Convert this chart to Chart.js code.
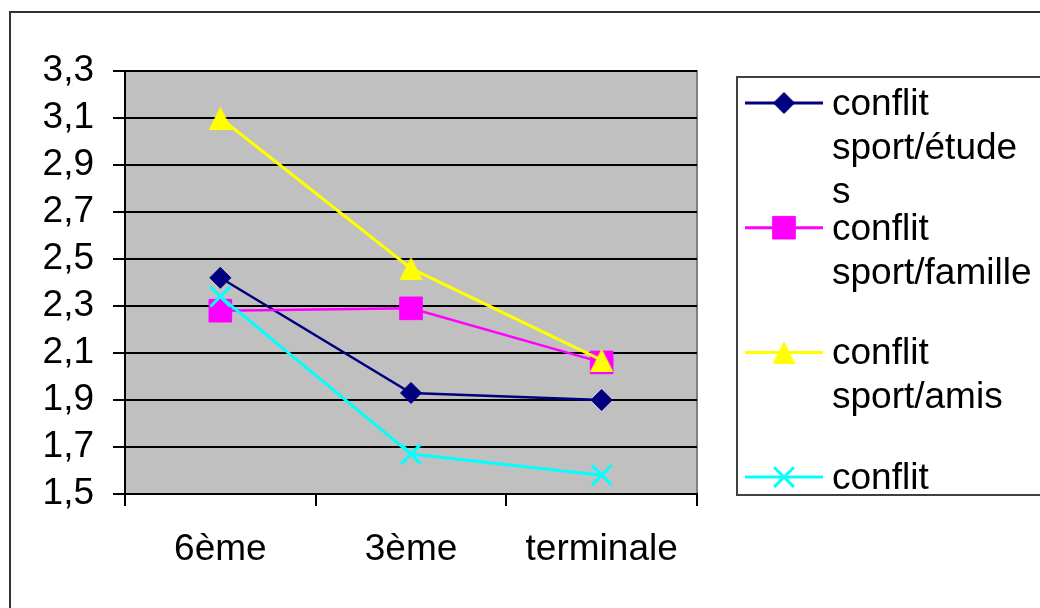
<!DOCTYPE html>
<html><head><meta charset="utf-8">
<script src="https://cdn.jsdelivr.net/npm/chart.js@4.4.1/dist/chart.umd.min.js"></script>
<style>html,body{margin:0;padding:0;background:#fff;}#wrap{width:1040px;height:608px;}</style>
</head><body><div id="wrap"><canvas id="c" width="1040" height="608"></canvas></div>
<script>
// ---- data ----
const categories = ['6ème', '3ème', 'terminale'];
const seriesLabels = ['conflit sport/études', 'conflit sport/famille', 'conflit sport/amis', 'conflit'];
const etudesValues = [2.42, 1.93, 1.90];
const familleValues = [2.28, 2.29, 2.06];
const amisValues = [3.10, 2.46, 2.07];
const quatriemeValues = [2.34, 1.67, 1.58];
const yTickValues = [1.5, 1.7, 1.9, 2.1, 2.3, 2.5, 2.7, 2.9, 3.1, 3.3];

// ---- style ----
const FONT = "'Liberation Sans', Arial, sans-serif";
const FS = 37;

// Excel-like triangle marker, centred on its bounding box
function makeTriangle(color, w, h) {
  const cv = document.createElement('canvas');
  cv.width = w; cv.height = h;
  const c = cv.getContext('2d');
  c.fillStyle = color;
  c.beginPath();
  c.moveTo(w / 2, 0);
  c.lineTo(w, h);
  c.lineTo(0, h);
  c.closePath();
  c.fill();
  return cv;
}
const triangleMarker = makeTriangle('#FFFF00', 23, 23);

const datasets = [
  {label: seriesLabels[0], data: etudesValues, borderColor: '#000080', backgroundColor: '#000080',
   pointStyle: 'rectRot', pointRadius: 10.5, borderWidth: 2.5, pointBorderWidth: 1, order: 4},
  {label: seriesLabels[1], data: familleValues, borderColor: '#FF00FF', backgroundColor: '#FF00FF',
   pointStyle: 'rect', pointRadius: 16, borderWidth: 2.5, pointBorderWidth: 1, order: 3},
  {label: seriesLabels[2], data: amisValues, borderColor: '#FFFF00', backgroundColor: '#FFFF00',
   pointStyle: triangleMarker, pointRadius: 12, borderWidth: 3, pointBorderWidth: 1, order: 2},
  {label: seriesLabels[3], data: quatriemeValues, borderColor: '#00FFFF', backgroundColor: '#00FFFF',
   pointStyle: 'crossRot', pointRadius: 14, borderWidth: 3, pointBorderWidth: 3, order: 1}
];

const framePlugin = {
  id: 'frame',
  beforeDraw(chart) {
    const ctx = chart.ctx, a = chart.chartArea;
    ctx.save();
    ctx.fillStyle = '#fff';
    ctx.fillRect(0, 0, chart.width, chart.height);
    ctx.strokeStyle = '#333';
    ctx.lineWidth = 2;
    ctx.strokeRect(10, 12, 1200, 800);
    ctx.fillStyle = '#C0C0C0';
    ctx.fillRect(a.left, a.top, a.right - a.left, a.bottom - a.top);
    ctx.strokeStyle = '#808080';
    ctx.lineWidth = 2;
    ctx.strokeRect(a.left, a.top, a.right - a.left, a.bottom - a.top);
    ctx.restore();
  }
};

function wrapText(ctx, text, maxW) {
  const words = text.split(' ');
  const lines = [];
  let cur = '';
  for (const w of words) {
    const test = cur ? cur + ' ' + w : w;
    if (ctx.measureText(test).width <= maxW) { cur = test; continue; }
    if (cur) lines.push(cur);
    if (ctx.measureText(w).width <= maxW) { cur = w; continue; }
    cur = '';
    for (const ch of w) {
      if (ctx.measureText(cur + ch).width > maxW && cur) { lines.push(cur); cur = ch; }
      else cur += ch;
    }
  }
  if (cur) lines.push(cur);
  return lines;
}

const legendPlugin = {
  id: 'boxLegend',
  afterDraw(chart) {
    const ctx = chart.ctx;
    const bx = 737, by = 77, bw = 400, bh = 418;
    ctx.save();
    ctx.strokeStyle = '#404040';
    ctx.lineWidth = 2;
    ctx.strokeRect(bx, by, bw, bh);
    ctx.beginPath();
    ctx.rect(bx + 1, by + 1, bw - 2, bh - 2);
    ctx.clip();
    ctx.font = FS + 'px ' + FONT;
    ctx.textBaseline = 'alphabetic';
    ctx.textAlign = 'left';
    chart.data.datasets.forEach((ds, i) => {
      const sy = 103 + 124.7 * i;
      ctx.strokeStyle = ds.borderColor;
      ctx.lineWidth = 3;
      ctx.beginPath();
      ctx.moveTo(745, sy);
      ctx.lineTo(823, sy);
      ctx.stroke();
      ctx.fillStyle = ds.backgroundColor;
      ctx.lineWidth = ds.pointBorderWidth;
      Chart.helpers.drawPoint(ctx, {pointStyle: ds.pointStyle, radius: ds.pointRadius, rotation: 0, borderWidth: ds.pointBorderWidth}, 784, sy);
      ctx.fillStyle = '#000';
      const lines = wrapText(ctx, ds.label, 5.45 * FS);
      lines.forEach((ln, k) => ctx.fillText(ln, 832, sy + 12 + 44 * k));
    });
    ctx.restore();
  }
};

new Chart(document.getElementById('c'), {
  type: 'line',
  data: {labels: categories, datasets: datasets},
  options: {
    responsive: false,
    animation: false,
    devicePixelRatio: 1,
    events: [],
    layout: {padding: {left: 0, top: 71, right: 343, bottom: 0}},
    elements: {line: {tension: 0}},
    plugins: {legend: {display: false}, tooltip: {enabled: false}},
    scales: {
      x: {
        type: 'category',
        offset: true,
        grid: {offset: true, drawOnChartArea: false, drawTicks: true, tickLength: 12, color: '#000', lineWidth: 2},
        border: {display: true, color: '#000', width: 2},
        ticks: {font: {family: FONT, size: FS}, color: '#000', padding: 22, maxRotation: 0, autoSkip: false},
        afterFit(s) { s.height = 114; }
      },
      y: {
        min: 1.5, max: 3.3,
        afterBuildTicks(s) { s.ticks = yTickValues.map(v => ({value: v})); },
        ticks: {font: {family: FONT, size: FS}, color: '#000', padding: 19, autoSkip: false,
                callback: v => Number(v).toFixed(1).replace('.', ',')},
        grid: {color: '#000', lineWidth: 2, tickLength: 12},
        border: {display: true, color: '#000', width: 2},
        afterFit(s) { s.width = 125; }
      }
    }
  },
  plugins: [framePlugin, legendPlugin]
});
</script></body></html>
